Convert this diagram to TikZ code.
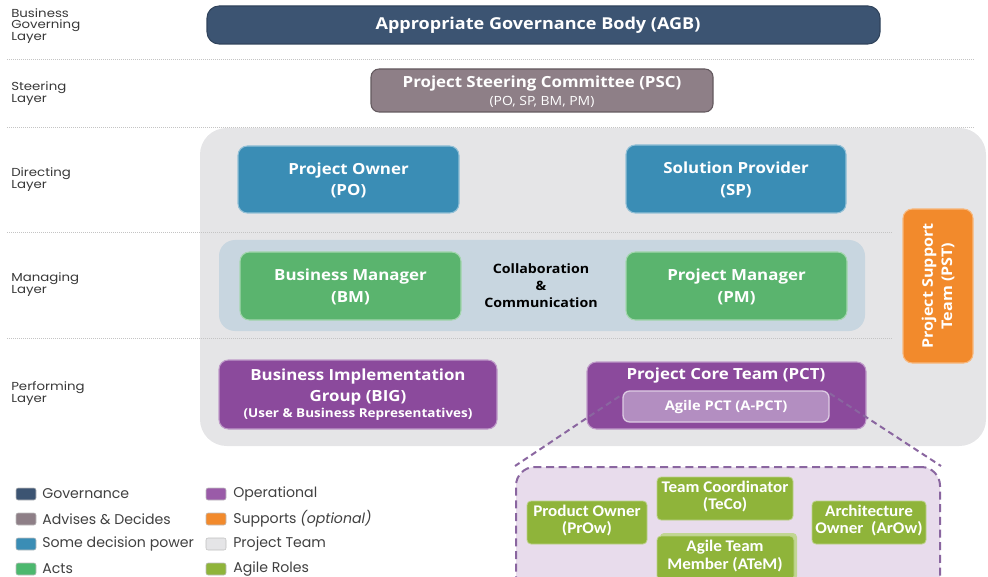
\documentclass[tikz,border=0pt]{standalone}
\usepackage{fontspec}
\setmainfont{Open Sans}[FakeStretch=1.1]
\newfontfamily\labfont{Poppins}[FakeStretch=1.15]
\newfontfamily\legfont{Poppins}
\newfontfamily\agfont{Carlito}[FakeStretch=1.05]
\usetikzlibrary{calc,fit}
\definecolor{gov}{HTML}{3C5472}
\definecolor{adv}{HTML}{8E7F87}
\definecolor{dec}{HTML}{3A8DB5}
\definecolor{acts}{HTML}{5AB46E}
\definecolor{actsl}{HTML}{4CB86E}
\definecolor{op}{HTML}{8B4A9C}
\definecolor{opl}{HTML}{9A5BA8}
\definecolor{apctc}{HTML}{B38EC1}
\definecolor{sup}{HTML}{F28A2C}
\definecolor{team}{HTML}{E5E5E7}
\definecolor{agile}{HTML}{8FB43A}
\definecolor{mgband}{HTML}{C8D6E0}
\definecolor{agbg}{HTML}{E8DCEC}
\definecolor{dashc}{HTML}{8A66A0}
\definecolor{sepc}{HTML}{C4C4C4}
\begin{document}
\begin{tikzpicture}[x=0.75pt,y=-0.75pt,
  box/.style={rounded corners=7pt, inner sep=0pt, line width=0.8pt},
  btxt/.style={text=white, align=center, inner sep=0pt,
    font=\bfseries\fontsize{11.5}{16.2}\selectfont},
  ag/.style={fill=agile, draw=agile!60!white, rounded corners=3pt, inner sep=0pt, line width=0.6pt},
  agt/.style={text=white, align=center, inner sep=0pt, font=\agfont\bfseries\fontsize{12.2}{13.3}\selectfont},
  sep/.style={sepc, densely dotted, line width=0.5pt},
  lay/.style={anchor=north west, align=left, inner sep=0pt, text=black!78,
    font=\labfont\fontsize{8.7}{8.3}\selectfont},
  legbox/.style={minimum width=15pt, minimum height=9pt, inner sep=0pt, rounded corners=1.5pt, draw=black!25, line width=0.4pt},
  legtxt/.style={anchor=west, inner sep=0pt, text=black!75, font=\legfont\fontsize{10.6}{12}\selectfont},
  dline/.style={dashc, dash pattern=on 4.5pt off 3pt, line width=1.5pt}
]
\useasboundingbox (0,0) rectangle (988,577);
% project team background
\node (team) [fit={(200,128)(986,446)}, inner sep=0pt, fill=team, rounded corners=20pt] {};
% separators
\foreach \yy in {59,127} \draw[sep] (7,\yy) -- (975,\yy);
\foreach \yy in {232,338} \draw[sep] (7,\yy) -- (892,\yy);
% layer labels
\node (l1) [lay] at (11,8) {Business\\Governing\\Layer};
\node (l2) [lay] at (11,81) {Steering\\Layer};
\node (l3) [lay] at (11,167) {Directing\\Layer};
\node (l4) [lay] at (11,272) {Managing\\Layer};
\node (l5) [lay] at (11,381) {Performing\\Layer};
% AGB
\node (agb) [box, fill=gov, draw=gov!80!black, fit={(207,6)(880,44)}, rounded corners=9pt] {};
\node (agbt) [btxt, font=\bfseries\fontsize{12.3}{14}\selectfont] at (538,25) {Appropriate Governance Body (AGB)};
% PSC
\node (psc) [box, fill=adv, draw=adv!70!black, fit={(371,69)(713,112)}, rounded corners=6pt] {};
\node (psct) [btxt] at (542,84) {Project Steering Committee (PSC)};
\node (pscs) [btxt, font=\fontsize{9.5}{12}\selectfont] at (542,102) {(PO, SP, BM, PM)};
% managing band
\node (mg) [fit={(219,240)(865,331)}, inner sep=0pt, fill=mgband, rounded corners=12pt] {};
% directing boxes
\node (po) [box, fill=dec, draw=dec!55!white, fit={(238,146)(459,213)}] {};
\node (pot) [btxt] at ($(po.center)+(0,1)$) {Project Owner\\(PO)};
\node (sp) [box, fill=dec, draw=dec!55!white, fit={(626,145)(846,213)}] {};
\node (spt) [btxt] at ($(sp.center)+(0,1)$) {Solution Provider\\(SP)};
% managing boxes
\node (bm) [box, fill=acts, draw=acts!55!white, fit={(240,252)(461,320)}] {};
\node (bmt) [btxt] at ($(bm.center)+(0,1)$) {Business Manager\\(BM)};
\node (pm) [box, fill=acts, draw=acts!55!white, fit={(626,252)(847,320)}] {};
\node (pmt) [btxt] at ($(pm.center)+(0,1)$) {Project Manager\\(PM)};
\node (collab) [align=center, inner sep=0pt, font=\bfseries\fontsize{9.7}{12.75}\selectfont] at (541,286) {Collaboration\\\&\\Communication};
% PST
\node (pst) [box, fill=sup, draw=sup!60!white, fit={(903,209)(973,363)}] {};
\node (pstt) [btxt, rotate=90, font=\bfseries\fontsize{11}{14.5}\selectfont] at (pst.center) {Project Support\\Team (PST)};
% BIG
\node (big) [box, fill=op, draw=op!55!white, fit={(219,360)(497,429)}] {};
\node (bigt) [btxt, font=\bfseries\fontsize{11.5}{15.7}\selectfont] at (358,387) {Business Implementation\\Group (BIG)};
\node (bigs) [btxt, font=\bfseries\fontsize{9.2}{12}\selectfont] at (358,414) {(User \& Business Representatives)};
% PCT
\node (pct) [box, fill=op, draw=op!55!white, fit={(587,362)(866,429)}] {};
\node (pctt) [btxt] at (726,376) {Project Core Team (PCT)};
\node (apct) [fit={(623,391)(829,422)}, inner sep=0pt, fill=apctc, draw=white!55!apctc, line width=1pt, rounded corners=5pt] {};
\node (apctt) [btxt, font=\bfseries\fontsize{10}{12}\selectfont] at ($(apct.center)+(0,1)$) {Agile PCT (A-PCT)};
% agile region
\node (agreg) [fit={(516,467)(940,600)}, inner sep=0pt, fill=agbg, draw=dashc, dash pattern=on 6pt off 3.5pt, line width=1.5pt, rounded corners=14pt] {};
\coordinate (dl) at ($(apct.north west)+(-3,6)$);
\coordinate (dr) at ($(apct.north east)+(0,3)$);
\draw[dline] (dl) -- (agreg.north west);
\draw[dline] (dr) -- (agreg.north east);
% agile roles
\node (prow) [ag, fit={(527,501)(647,544)}] {};
\node (prowt) [agt] at ($(prow.center)+(0,-2)$) {Product Owner\\(PrOw)};
\node (teco) [ag, fit={(657,477)(793,520)}] {};
\node (tecot) [agt] at ($(teco.center)+(0,-2)$) {Team Coordinator\\(TeCo)};
\node (atemb) [fit={(660,533)(797,580)}, inner sep=0pt, fill=agile!55!white, rounded corners=3pt] {};
\node (atem) [ag, fit={(657,536)(794,580)}] {};
\node (atemt) [agt] at (725,556) {Agile Team\\Member (ATeM)};
\node (arow) [ag, fit={(812,501)(926,544)}] {};
\node (arowt) [agt] at ($(arow.center)+(0,-2)$) {Architecture\\Owner\ \ (ArOw)};
% legend
\node (g1) [legbox, fill=gov] at (26,494) {};
\node (g2) [legbox, fill=adv] at (26,519) {};
\node (g3) [legbox, fill=dec] at (26,544) {};
\node (g4) [legbox, fill=actsl] at (26,569) {};
\node (g5) [legbox, fill=opl] at (216,494) {};
\node (g6) [legbox, fill=sup] at (216,519) {};
\node (g7) [legbox, fill=team] at (216,544) {};
\node (g8) [legbox, fill=agile] at (216,569) {};
\node (t1) [legtxt] at (42,494) {Governance};
\node (t2) [legtxt] at (42,519) {Advises \& Decides};
\node (t3) [legtxt] at (42,544) {Some decision power};
\node (t4) [legtxt] at (42,569) {Acts};
\node (t5) [legtxt] at (233,494) {Operational};
\node (t6) [legtxt] at (233,519) {Supports \textit{(optional)}};
\node (t7) [legtxt] at (233,544) {Project Team};
\node (t8) [legtxt] at (233,569) {Agile Roles};
\end{tikzpicture}
\end{document}
